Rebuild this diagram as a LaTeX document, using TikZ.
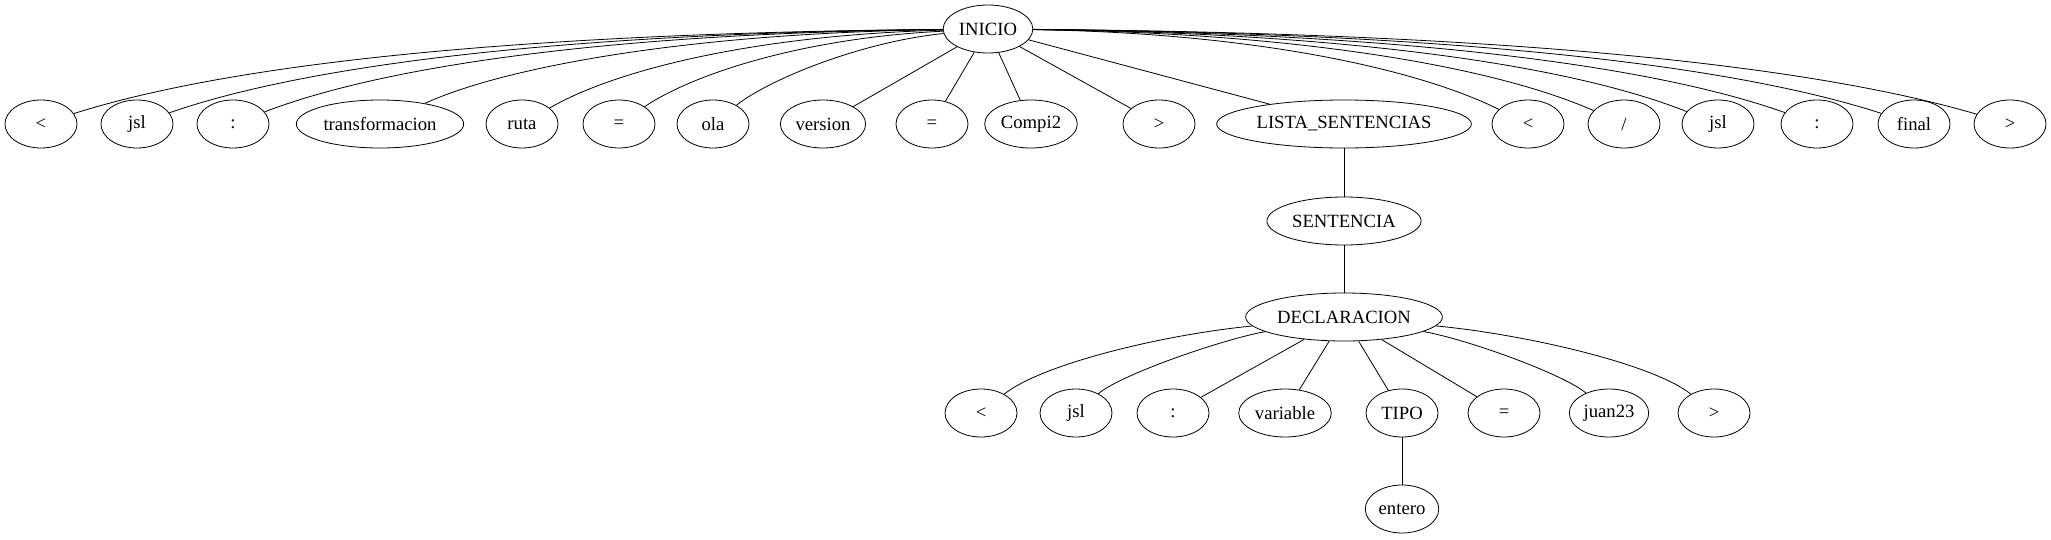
\documentclass[tikz,border=0pt]{standalone}
\usepackage{fontspec}
\setmainfont{Liberation Serif}
\usetikzlibrary{shapes.geometric}
\begin{document}
\begin{tikzpicture}[x=0.75pt,y=-0.75pt,
  tn/.style={ellipse,draw,line width=0.6pt,minimum width=54pt,minimum height=36pt,inner xsep=2pt,inner ysep=1pt,font=\fontsize{14}{16}\selectfont},
  ed/.style={line width=0.6pt}]
\useasboundingbox (0,0) rectangle (2051,539);
\node[tn] (ini) at (988,29) {INICIO};
% row 1
\node[tn] (a1) at (41,124) {<};
\node[tn] (a2) at (137,124) {jsl};
\node[tn] (a3) at (233,124) {:};
\node[tn] (a4) at (380,124) {transformacion};
\node[tn] (a5) at (522,124) {ruta};
\node[tn] (a6) at (619,124) {=};
\node[tn] (a7) at (713,124) {ola};
\node[tn] (a8) at (823,124) {version};
\node[tn] (a9) at (932,124) {=};
\node[tn] (a10) at (1031,124) {Compi2};
\node[tn] (a11) at (1159,124) {>};
\node[tn] (ls) at (1344,124) {LISTA\_SENTENCIAS};
\node[tn] (b1) at (1528,124) {<};
\node[tn] (b2) at (1624,124) {/};
\node[tn] (b3) at (1718,124) {jsl};
\node[tn] (b4) at (1817,124) {:};
\node[tn] (b5) at (1914,124) {final};
\node[tn] (b6) at (2010,124) {>};
% lower
\node[tn] (sen) at (1344,221) {SENTENCIA};
\node[tn] (dec) at (1344,317) {DECLARACION};
\node[tn] (d1) at (981,413) {<};
\node[tn] (d2) at (1076,413) {jsl};
\node[tn] (d3) at (1173,413) {:};
\node[tn] (d4) at (1285,413) {variable};
\node[tn] (d5) at (1402,413) {TIPO};
\node[tn] (d6) at (1504,413) {=};
\node[tn] (d7) at (1609,413) {juan23};
\node[tn] (d8) at (1714,413) {>};
\node[tn] (ent) at (1402,509) {entero};
% edges from INICIO
\draw[ed] (ini) .. controls (514,33) and (230,64) .. (a1);
\draw[ed] (ini) .. controls (562,33) and (307,65) .. (a2);
\draw[ed] (ini) .. controls (610,33) and (384,66) .. (a3);
\draw[ed] (ini) .. controls (684,33) and (502,68) .. (a4);
\draw[ed] (ini) .. controls (755,35) and (615,70) .. (a5);
\draw[ed] (ini) .. controls (803,38) and (693,74) .. (a6);
\draw[ed] (ini) .. controls (860,42) and (768,80) .. (a7);
\draw[ed] (ini) -- (a8);
\draw[ed] (ini) -- (a9);
\draw[ed] (ini) -- (a10);
\draw[ed] (ini) -- (a11);
\draw[ed] (ini) -- (ls);
\draw[ed] (ini) .. controls (1258,33) and (1420,70) .. (b1);
\draw[ed] (ini) .. controls (1306,33) and (1497,68) .. (b2);
\draw[ed] (ini) .. controls (1353,33) and (1572,66) .. (b3);
\draw[ed] (ini) .. controls (1402,33) and (1651,65) .. (b4);
\draw[ed] (ini) .. controls (1451,33) and (1729,64) .. (b5);
\draw[ed] (ini) .. controls (1499,33) and (1806,64) .. (b6);
\draw[ed] (ls) -- (sen);
\draw[ed] (sen) -- (dec);
% edges from DECLARACION
\draw[ed] (dec) .. controls (1160,335) and (1040,365) .. (d1);
\draw[ed] (dec) .. controls (1220,340) and (1120,375) .. (d2);
\draw[ed] (dec) -- (d3);
\draw[ed] (dec) -- (d4);
\draw[ed] (dec) -- (d5);
\draw[ed] (dec) -- (d6);
\draw[ed] (dec) .. controls (1470,340) and (1565,375) .. (d7);
\draw[ed] (dec) .. controls (1530,335) and (1655,365) .. (d8);
\draw[ed] (d5) -- (ent);
\end{tikzpicture}
\end{document}
